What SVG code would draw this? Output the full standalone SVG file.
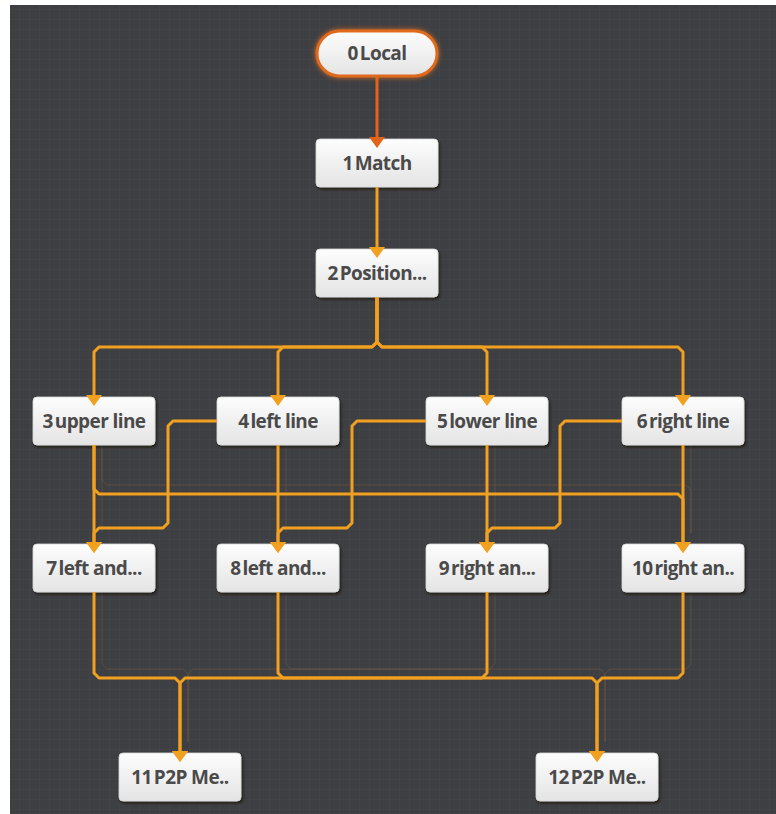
<svg xmlns="http://www.w3.org/2000/svg" xmlns:xlink="http://www.w3.org/1999/xlink" width="776" height="814" viewBox="0 0 776 814">
<defs>
<style>
.node rect{fill:url(#ng);stroke:#d8d8d8;stroke-width:0.8;filter:url(#sh)}
.node text{font-family:"Open Sans","Liberation Sans",sans-serif;font-weight:700;font-size:19px;fill:#4a4a4a;text-anchor:middle;letter-spacing:-0.6px}
.c{fill:none;stroke:#f2a020;stroke-width:3;stroke-linejoin:round;marker-end:url(#ah)}
.c0{fill:none;stroke:#e2641b;stroke-width:3;marker-end:url(#ah0)}
.ghost{fill:none;stroke:#b07040;stroke-width:1;opacity:0.25}
</style>
<linearGradient id="ng" x1="0" y1="0" x2="0" y2="1">
<stop offset="0" stop-color="#fdfdfd"/>
<stop offset="1" stop-color="#e4e4e4"/>
</linearGradient>
<filter id="sh" x="-10%" y="-20%" width="125%" height="150%">
<feDropShadow dx="1.5" dy="2" stdDeviation="1" flood-color="#1c140c" flood-opacity="0.85"/>
</filter>
<filter id="glow" x="-20%" y="-40%" width="140%" height="180%">
<feDropShadow dx="0" dy="0" stdDeviation="2.5" flood-color="#e8701c" flood-opacity="0.9"/>
</filter>
<pattern id="grid" width="10" height="10" patternUnits="userSpaceOnUse">
<rect width="10" height="10" fill="#3e3f43"/>
<path d="M10,0 V10 M0,10 H10" stroke="#46474b" stroke-width="1" fill="none"/>
</pattern>
<marker id="ah" viewBox="0 0 11 16" refX="0" refY="8" markerWidth="11" markerHeight="16" markerUnits="userSpaceOnUse" orient="auto">
<path d="M0,0 L11,8 L0,16 z" fill="#f2a020"/>
</marker>
<marker id="ah0" viewBox="0 0 11 16" refX="0" refY="8" markerWidth="11" markerHeight="16" markerUnits="userSpaceOnUse" orient="auto">
<path d="M0,0 L11,8 L0,16 z" fill="#e2641b"/>
</marker>
<path id="p1" d="M377,187 V247"/>
<path id="p2" d="M377,297 V342 L372,347 H99 L94,352 V395"/>
<path id="p3" d="M377,297 V342 L372,347 H283 L278,352 V395"/>
<path id="p4" d="M377,297 V342 L382,347 H482 L487,352 V395"/>
<path id="p5" d="M377,297 V342 L382,347 H678 L683,352 V395"/>
<path id="p6" d="M94,445 V542"/>
<path id="p7" d="M94,445 V489 L99,494 H678 L683,499 V542"/>
<path id="p8" d="M217,421 H173 L168,426 V523 L163,528 H99 L94,533 V542"/>
<path id="p9" d="M278,445 V542"/>
<path id="p10" d="M426,421 H357 L352,426 V523 L347,528 H283 L278,533 V542"/>
<path id="p11" d="M487,445 V542"/>
<path id="p12" d="M622,421 H565 L560,426 V523 L555,528 H492 L487,533 V542"/>
<path id="p13" d="M683,445 V542"/>
<path id="p14" d="M94,592 V673 L99,678 H175 L180,683 V751"/>
<path id="p15" d="M487,592 V673 L482,678 H185 L180,683 V751"/>
<path id="p16" d="M278,592 V673 L283,678 H592 L597,683 V751"/>
<path id="p17" d="M683,592 V673 L678,678 H602 L597,683 V751"/>
</defs>
<rect x="0" y="0" width="776" height="814" fill="#ffffff"/>
<rect x="10" y="5" width="766" height="809" fill="url(#grid)"/>
<g id="ghosts" transform="translate(8,-9)">
<use xlink:href="#p6" class="ghost"/>
<use xlink:href="#p7" class="ghost"/>
<use xlink:href="#p9" class="ghost"/>
<use xlink:href="#p11" class="ghost"/>
<use xlink:href="#p13" class="ghost"/>
<use xlink:href="#p14" class="ghost"/>
<use xlink:href="#p15" class="ghost"/>
<use xlink:href="#p16" class="ghost"/>
<use xlink:href="#p17" class="ghost"/>
</g>
<g id="n0" class="node">
<rect x="317" y="31" width="120" height="45" rx="22.5" style="stroke:#e06a1c;stroke-width:3;filter:url(#glow)"/>
<text x="377" y="60"><tspan>0</tspan><tspan dx="2">Local</tspan></text>
</g>
<g id="n1" class="node"><rect x="316" y="139" width="122" height="48" rx="4"/><text x="377" y="170"><tspan>1</tspan><tspan dx="2">Match</tspan></text></g>
<g id="n2" class="node"><rect x="316" y="249" width="122" height="48" rx="4"/><text x="377" y="280"><tspan>2</tspan><tspan dx="2">Position...</tspan></text></g>
<g id="n3" class="node"><rect x="33" y="397" width="122" height="48" rx="4"/><text x="94" y="428"><tspan>3</tspan><tspan dx="2">upper line</tspan></text></g>
<g id="n4" class="node"><rect x="217" y="397" width="122" height="48" rx="4"/><text x="278" y="428"><tspan>4</tspan><tspan dx="2">left line</tspan></text></g>
<g id="n5" class="node"><rect x="426" y="397" width="122" height="48" rx="4"/><text x="487" y="428"><tspan>5</tspan><tspan dx="2">lower line</tspan></text></g>
<g id="n6" class="node"><rect x="622" y="397" width="122" height="48" rx="4"/><text x="683" y="428"><tspan>6</tspan><tspan dx="2">right line</tspan></text></g>
<g id="n7" class="node"><rect x="33" y="544" width="122" height="48" rx="4"/><text x="94" y="575"><tspan>7</tspan><tspan dx="2">left and...</tspan></text></g>
<g id="n8" class="node"><rect x="217" y="544" width="122" height="48" rx="4"/><text x="278" y="575"><tspan>8</tspan><tspan dx="2">left and...</tspan></text></g>
<g id="n9" class="node"><rect x="426" y="544" width="122" height="48" rx="4"/><text x="487" y="575"><tspan>9</tspan><tspan dx="2">right an...</tspan></text></g>
<g id="n10" class="node"><rect x="622" y="544" width="122" height="48" rx="4"/><text x="683" y="575"><tspan>10</tspan><tspan dx="2">right an..</tspan></text></g>
<g id="n11" class="node"><rect x="119" y="753" width="122" height="48" rx="4"/><text x="180" y="784"><tspan>11</tspan><tspan dx="2">P2P Me..</tspan></text></g>
<g id="n12" class="node"><rect x="536" y="753" width="122" height="48" rx="4"/><text x="597" y="784"><tspan>12</tspan><tspan dx="2">P2P Me..</tspan></text></g>
<g id="connectors">
<path class="c0" d="M377,77 V137"/>
<use xlink:href="#p1" class="c"/>
<use xlink:href="#p2" class="c"/>
<use xlink:href="#p3" class="c"/>
<use xlink:href="#p4" class="c"/>
<use xlink:href="#p5" class="c"/>
<use xlink:href="#p6" class="c"/>
<use xlink:href="#p7" class="c"/>
<use xlink:href="#p8" class="c"/>
<use xlink:href="#p9" class="c"/>
<use xlink:href="#p10" class="c"/>
<use xlink:href="#p11" class="c"/>
<use xlink:href="#p12" class="c"/>
<use xlink:href="#p13" class="c"/>
<use xlink:href="#p14" class="c"/>
<use xlink:href="#p15" class="c"/>
<use xlink:href="#p16" class="c"/>
<use xlink:href="#p17" class="c"/>
</g>
</svg>
